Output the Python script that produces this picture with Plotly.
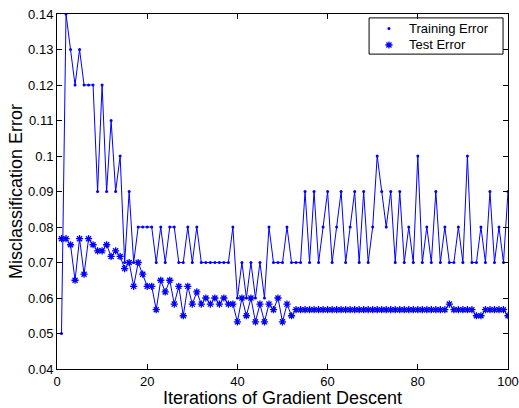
import plotly.graph_objects as go

iterations = list(range(1, 101))

training_error = [
    0.05, 0.14, 0.13, 0.12, 0.13, 0.12, 0.12, 0.12, 0.09, 0.12,
    0.09, 0.11, 0.09, 0.10, 0.07, 0.09, 0.07, 0.08, 0.08, 0.08,
    0.08, 0.07, 0.08, 0.07, 0.08, 0.08, 0.07, 0.07, 0.08, 0.07,
    0.08, 0.07, 0.07, 0.07, 0.07, 0.07, 0.07, 0.07, 0.08, 0.06,
    0.07, 0.06, 0.07, 0.06, 0.07, 0.06, 0.08, 0.07, 0.07, 0.07,
    0.08, 0.07, 0.07, 0.07, 0.09, 0.07, 0.09, 0.07, 0.08, 0.09,
    0.07, 0.08, 0.09, 0.07, 0.08, 0.09, 0.07, 0.09, 0.07, 0.08,
    0.10, 0.09, 0.08, 0.09, 0.07, 0.09, 0.07, 0.08, 0.07, 0.10,
    0.07, 0.08, 0.07, 0.09, 0.07, 0.08, 0.07, 0.07, 0.08, 0.07,
    0.10, 0.07, 0.07, 0.08, 0.07, 0.09, 0.07, 0.08, 0.07, 0.09,
]

test_error = [
    0.0767, 0.0767, 0.0750, 0.0650, 0.0767, 0.0667, 0.0767, 0.0750, 0.0733, 0.0733,
    0.0750, 0.0717, 0.0733, 0.0717, 0.0683, 0.0700, 0.0633, 0.0700, 0.0667, 0.0633,
    0.0633, 0.0567, 0.0650, 0.0617, 0.0650, 0.0583, 0.0633, 0.0550, 0.0633, 0.0583,
    0.0617, 0.0583, 0.0600, 0.0583, 0.0600, 0.0583, 0.0600, 0.0583, 0.0583, 0.0533,
    0.0600, 0.0550, 0.0600, 0.0533, 0.0583, 0.0533, 0.0583, 0.0567, 0.0600, 0.0533,
    0.0583, 0.0550, 0.0567, 0.0567, 0.0567, 0.0567, 0.0567, 0.0567, 0.0567, 0.0567,
    0.0567, 0.0567, 0.0567, 0.0567, 0.0567, 0.0567, 0.0567, 0.0567, 0.0567, 0.0567,
    0.0567, 0.0567, 0.0567, 0.0567, 0.0567, 0.0567, 0.0567, 0.0567, 0.0567, 0.0567,
    0.0567, 0.0567, 0.0567, 0.0567, 0.0567, 0.0567, 0.0583, 0.0567, 0.0567, 0.0567,
    0.0567, 0.0567, 0.0550, 0.0550, 0.0567, 0.0567, 0.0567, 0.0567, 0.0567, 0.0550,
]

series_names = ["Training Error", "Test Error"]

x_ticks = [0, 20, 40, 60, 80, 100]
y_ticks = [0.04, 0.05, 0.06, 0.07, 0.08, 0.09, 0.10, 0.11, 0.12, 0.13, 0.14]
y_tick_labels = ["0.04", "0.05", "0.06", "0.07", "0.08", "0.09", "0.1",
                 "0.11", "0.12", "0.13", "0.14"]

BLUE = "#0000FF"
FONT = "Liberation Sans, Arial, Helvetica, sans-serif"

train_marker = dict(symbol="circle", size=3, color=BLUE)
test_marker = dict(symbol="asterisk", size=6, color=BLUE,
                   line=dict(color=BLUE, width=1.3))

fig = go.Figure()

fig.add_trace(go.Scatter(
    x=iterations, y=training_error, mode="lines+markers",
    line=dict(color=BLUE, width=1), marker=train_marker,
    showlegend=False, name=series_names[0],
))
fig.add_trace(go.Scatter(
    x=iterations, y=test_error, mode="lines+markers",
    line=dict(color=BLUE, width=1), marker=test_marker,
    showlegend=False, name=series_names[1],
))

# ---- MATLAB-style legend box (marker glyph + label), in plot-fraction units
leg_x0, leg_x1, leg_y0, leg_y1 = 0.692, 0.989, 0.887, 0.989
glyph_x, text_x = 0.736, 0.776
row_y = [0.959, 0.9127]

fig.add_shape(type="rect", xref="paper", yref="paper",
              x0=leg_x0, x1=leg_x1, y0=leg_y0, y1=leg_y1,
              line=dict(color="black", width=1), fillcolor="white", layer="below")
for name, ry, mk in zip(series_names, row_y, [train_marker, test_marker]):
    fig.add_trace(go.Scatter(
        x=[glyph_x], y=[ry], xaxis="x2", yaxis="y2", mode="markers",
        marker=mk, showlegend=False, hoverinfo="skip", cliponaxis=False,
    ))
    fig.add_annotation(xref="paper", yref="paper", x=text_x, y=ry,
                       text=name, showarrow=False, xanchor="left", yanchor="middle",
                       font=dict(family=FONT, size=13, color="black"))

axis_common = dict(
    showline=True, linecolor="black", linewidth=1, mirror="ticks",
    ticks="inside", ticklen=5, tickcolor="black", tickwidth=1,
    showgrid=False, zeroline=False, automargin=False,
    ticklabeloverflow="allow",
    tickfont=dict(family=FONT, size=13, color="black"),
)

fig.update_xaxes(
    range=[0, 100], tickvals=x_ticks,
    title=dict(text="Iterations of Gradient Descent",
               font=dict(family=FONT, size=18, color="black"), standoff=0),
    **axis_common,
)
fig.update_yaxes(
    range=[0.04, 0.14], tickvals=y_ticks, ticktext=y_tick_labels,
    title=dict(text="Misclassification Error",
               font=dict(family=FONT, size=18, color="black"), standoff=0),
    **axis_common,
)

fig.update_layout(
    width=519, height=408,
    margin=dict(l=57, r=11, t=14, b=39),
    paper_bgcolor="white", plot_bgcolor="white",
    font=dict(family=FONT, size=13, color="black"),
    showlegend=False,
    xaxis2=dict(overlaying="x", range=[0, 1], visible=False, fixedrange=True),
    yaxis2=dict(overlaying="y", range=[0, 1], visible=False, fixedrange=True),
)

fig.write_html("out.html", config={"displayModeBar": False},
               post_script="document.body.style.margin='0';")
